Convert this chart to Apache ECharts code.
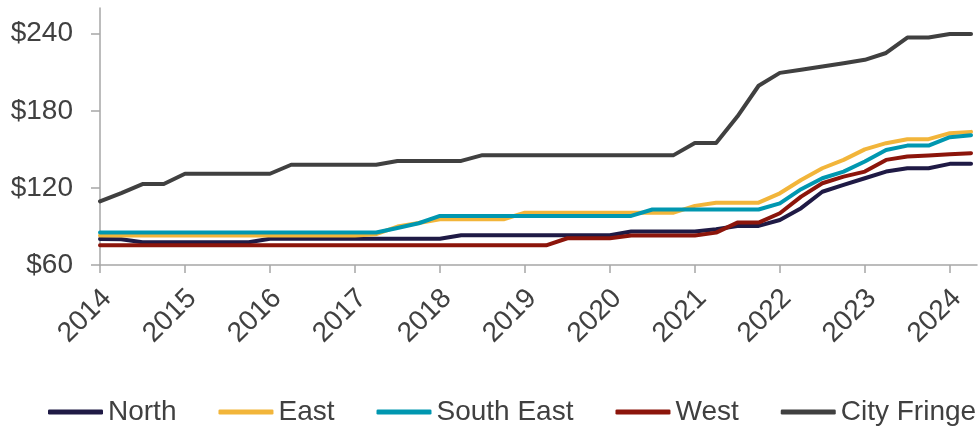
<!DOCTYPE html>
<html>
<head>
<meta charset="utf-8">
<script src="https://cdn.jsdelivr.net/npm/echarts@6/dist/echarts.min.js"></script>
<style>
  html, body { margin: 0; padding: 0; background: #fff; }
  #chart { width: 980px; height: 427px; }
</style>
</head>
<body>
<div id="chart"></div>
<script>
// quarterly points, 2014 Q1 .. 2024 Q2
const quarters = [
  2014.00, 2014.25, 2014.50, 2014.75, 2015.00, 2015.25, 2015.50, 2015.75,
  2016.00, 2016.25, 2016.50, 2016.75, 2017.00, 2017.25, 2017.50, 2017.75,
  2018.00, 2018.25, 2018.50, 2018.75, 2019.00, 2019.25, 2019.50, 2019.75,
  2020.00, 2020.25, 2020.50, 2020.75, 2021.00, 2021.25, 2021.50, 2021.75,
  2022.00, 2022.25, 2022.50, 2022.75, 2023.00, 2023.25, 2023.50, 2023.75,
  2024.00, 2024.25
];
const yearTicks = [2014, 2015, 2016, 2017, 2018, 2019, 2020, 2021, 2022, 2023, 2024];
const priceTicks = [60, 120, 180, 240];

const north = [
  80.3, 80, 77.7, 77.7, 77.7, 77.7, 77.7, 77.7, 80.5, 80.5, 80.5, 80.5, 80.5, 80.5,
  80.5, 80.5, 80.5, 83.2, 83.2, 83.2, 83.2, 83.2, 83.2, 83.2, 83.2, 86, 86, 86,
  86, 87.8, 90.4, 90.4, 95, 104.2, 117, 122.3, 127.5, 132.7, 135.3, 135.3, 138.7, 138.7
];
const east = [
  83, 83, 83, 83, 83, 83, 83, 83, 83, 83, 83, 83, 83, 84,
  89.9, 92.7, 95.6, 95.6, 95.6, 95.6, 100.7, 100.7, 100.7, 100.7, 100.7, 100.7, 100.7, 100.7,
  106, 108.5, 108.5, 108.5, 115.8, 126.2, 135.3, 141.8, 150, 154.8, 157.9, 157.9, 162.6, 163.6
];
const southEast = [
  85.3, 85.3, 85.3, 85.3, 85.3, 85.3, 85.3, 85.3, 85.3, 85.3, 85.3, 85.3, 85.3, 85.3,
  88.8, 92.5, 98.2, 98.2, 98.2, 98.2, 98.2, 98.2, 98.2, 98.2, 98.2, 98.2, 103.2, 103.2,
  103.2, 103.2, 103.2, 103.2, 108, 119, 127.5, 132.7, 140.5, 149.5, 152.9, 152.9, 159.5, 161
];
const west = [
  75.3, 75.3, 75.3, 75.3, 75.3, 75.3, 75.3, 75.3, 75.3, 75.3, 75.3, 75.3, 75.3, 75.3,
  75.3, 75.3, 75.3, 75.3, 75.3, 75.3, 75.3, 75.3, 80.8, 80.8, 80.8, 83, 83, 83,
  83, 85.2, 93, 93, 100.3, 113.2, 123.6, 128.8, 132.7, 141.8, 144.4, 145.2, 146.2, 147
];
const cityFringe = [
  109.5, 116, 123, 123, 131, 131, 131, 131, 131, 138, 138, 138, 138, 138,
  141, 141, 141, 141, 145.5, 145.5, 145.5, 145.5, 145.5, 145.5, 145.5, 145.5, 145.5, 145.5,
  155, 155, 175.5, 199.5, 209.5, 212, 214.5, 217, 219.7, 225, 237, 237, 239.7, 239.7
];

const seriesDefs = [
  { name: 'North', data: north, color: '#1f1a45' },
  { name: 'East', data: east, color: '#f2b53a' },
  { name: 'South East', data: southEast, color: '#0097b0' },
  { name: 'West', data: west, color: '#8c150b' },
  { name: 'City Fringe', data: cityFringe, color: '#404040' }
];

const textColor = '#404040';
const axisColor = '#a6a6a6';
const font = 'Liberation Sans, Arial, sans-serif';

const chart = echarts.init(document.getElementById('chart'));
chart.setOption({
  animation: false,
  backgroundColor: '#fff',
  grid: { left: 100, right: 3, top: 8, bottom: 162, containLabel: false },
  legend: {
    top: 398,
    left: 48,
    width: 932,
    padding: 0,
    icon: 'roundRect',
    itemWidth: 55,
    itemHeight: 5,
    itemGap: 42,
    textStyle: { color: textColor, fontSize: 28, fontFamily: font },
    data: seriesDefs.map(s => s.name)
  },
  xAxis: {
    type: 'value',
    min: 2014,
    max: 2024.32,
    interval: 1,
    splitLine: { show: false },
    axisLine: { lineStyle: { color: axisColor, width: 1.5 } },
    axisTick: { show: true, length: 8, lineStyle: { color: axisColor, width: 1.5 }, customValues: yearTicks },
    axisLabel: {
      customValues: yearTicks,
      rotate: 45,
      margin: 22,
      verticalAlign: 'top',
      lineHeight: 20,
      color: textColor,
      fontSize: 28,
      fontFamily: font,
      formatter: v => String(v)
    }
  },
  yAxis: {
    type: 'value',
    min: 60,
    max: 260,
    interval: 60,
    splitLine: { show: false },
    axisLine: { show: true, lineStyle: { color: axisColor, width: 1.5 } },
    axisTick: { show: true, length: 9, lineStyle: { color: axisColor, width: 1.5 }, customValues: priceTicks },
    axisLabel: {
      customValues: priceTicks,
      margin: 27,
      color: textColor,
      fontSize: 28,
      fontFamily: font,
      formatter: v => '$' + v
    }
  },
  series: seriesDefs.map(s => ({
    name: s.name,
    type: 'line',
    data: s.data.map((v, i) => [quarters[i], v]),
    showSymbol: false,
    symbol: 'none',
    color: s.color,
    lineStyle: { width: 4, color: s.color, join: 'round', cap: 'round' }
  }))
});
</script>
</body>
</html>
